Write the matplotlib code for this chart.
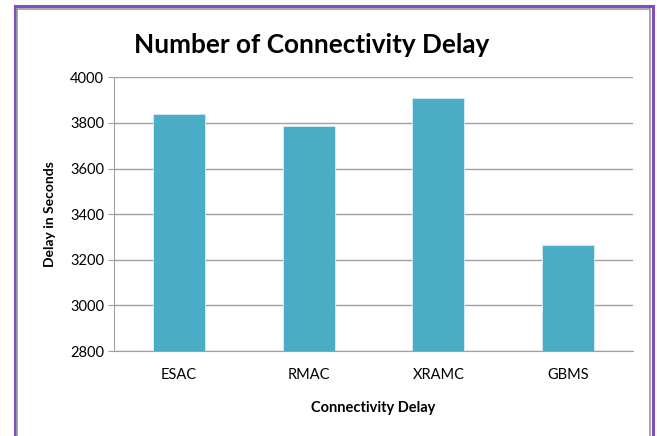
import matplotlib.pyplot as plt
from matplotlib.patches import Rectangle

plt.rcParams["font.family"] = ["Lato", "DejaVu Sans"]

categories = ["ESAC", "RMAC", "XRAMC", "GBMS"]
delay_seconds = [3840, 3785, 3910, 3265]
y_ticks = [2800, 3000, 3200, 3400, 3600, 3800, 4000]

fig = plt.figure(figsize=(6.57, 4.36), dpi=100)
fig.patch.set_facecolor("white")

# purple frame with a grey inner line
fig.add_artist(Rectangle((14.5 / 657, -0.05), (653 - 14.5) / 657, 1.05 - 6.5 / 436,
                         transform=fig.transFigure, fill=False,
                         edgecolor="#7e4fc0", linewidth=2.2))
fig.add_artist(Rectangle((17 / 657, -0.05), (650 - 17) / 657, 1.05 - 9.5 / 436,
                         transform=fig.transFigure, fill=False,
                         edgecolor="#9a9a9a", linewidth=1.2))

ax = fig.add_axes([114 / 657, 1 - 351 / 436, (633 - 114) / 657, (351 - 77.3) / 436])
x = range(len(categories))
ax.bar(x, delay_seconds, width=0.4, color="#4bacc6", edgecolor="#d6eef4",
       linewidth=0.6, zorder=3)

ax.set_ylim(2800, 4000)
ax.set_xlim(-0.5, len(categories) - 0.5)
ax.set_yticks(y_ticks)
ax.set_yticklabels([str(v) for v in y_ticks], fontsize=10.5)
ax.set_xticks(list(x))
ax.set_xticklabels(categories, fontsize=10.5)
ax.yaxis.grid(True, color="#a0a0a0", linewidth=1.0, zorder=0)
ax.set_axisbelow(True)

for side in ["top", "right"]:
    ax.spines[side].set_visible(False)
ax.spines["left"].set_color("#a0a0a0")
ax.spines["bottom"].set_color("#a0a0a0")
ax.spines["bottom"].set_zorder(4)
ax.tick_params(axis="y", length=4, color="#a0a0a0", pad=3)
ax.tick_params(axis="x", length=0, pad=12)

ax.set_ylabel("Delay in Seconds", fontsize=10, fontweight="bold", labelpad=10)
ax.set_xlabel("Connectivity Delay", fontsize=10.5, fontweight="bold", labelpad=14)

fig.text(312 / 657, 1 - 45 / 436, "Number of Connectivity Delay", fontsize=18.8,
         fontweight="bold", ha="center", va="center")

fig.savefig("out.png", dpi=100)
